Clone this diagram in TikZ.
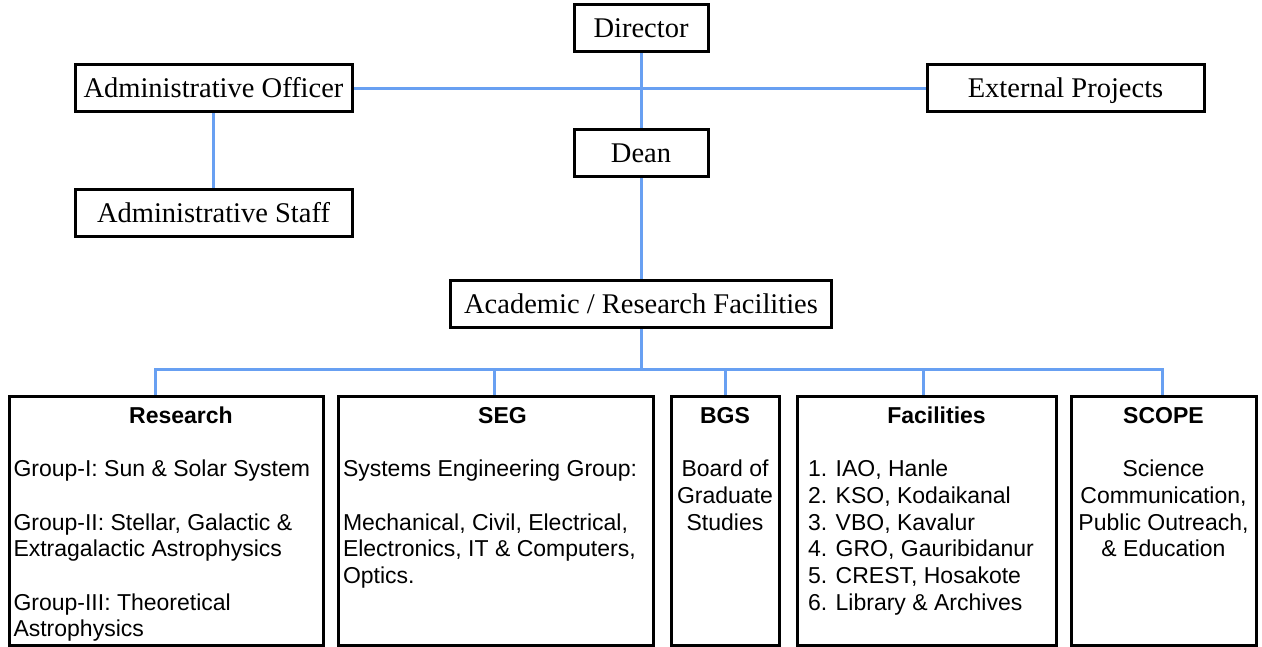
\documentclass[tikz,border=0pt]{standalone}
\usepackage{fontspec}
\setmainfont{Liberation Serif}
\setsansfont{Liberation Sans}
\usetikzlibrary{backgrounds}
\definecolor{linkblue}{RGB}{104,160,242}
\newcommand{\unithead}[1]{\rule{0pt}{17.2pt}\textbf{#1}}

\begin{document}
\begin{tikzpicture}[x=1pt, y=-1pt,
  post/.style={draw, fill=white, line width=3pt, minimum height=47pt, inner sep=0pt,
    text height=19pt, text depth=0pt, font=\fontsize{28.5}{32}\selectfont},
  unit/.style={draw, fill=white, line width=3pt, anchor=north, inner ysep=9.5pt, inner xsep=4pt,
    font=\sffamily\fontsize{23}{26.7}\selectfont},
  link/.style={draw=linkblue, line width=3pt}]
\useasboundingbox (0,0) rectangle (1262,647);

% management
\node[post, minimum width=134pt] (dir) at (641,28.5) {Director};
\node[post, minimum width=277pt] (admoff) at (213.5,88.5) {Administrative Officer};
\node[post, minimum width=277pt] (ext) at (1065.5,88.5) {External Projects};
\node[post, minimum width=134pt] (dean) at (641,153.5) {Dean};
\node[post, minimum width=277pt] (admstaff) at (213.5,213.5) {Administrative Staff};
\node[post, minimum width=381pt] (acad) at (641,304.5) {Academic / Research Facilities};

% units
\node[unit] (res) at (166.5,395) {\parbox[t][230pt][t]{306pt}{%
  {\centering\hspace*{29pt}\unithead{Research}\par}\raggedright
  \vspace{26.7pt}Group-I: Sun \& Solar System\par
  \vspace{26.7pt}Group-II: Stellar, Galactic \&\\ Extragalactic Astrophysics\par
  \vspace{26.7pt}Group-III: Theoretical\\ Astrophysics}};
\node[unit, inner xsep=5pt] (seg) at (495.5,395) {\parbox[t][230pt][t]{305pt}{%
  {\centering\hspace*{14pt}\unithead{SEG}\par}\raggedright
  \vspace{26.7pt}Systems Engineering Group:\par
  \vspace{26.7pt}Mechanical, Civil, Electrical,\\ Electronics, IT \& Computers,\\ Optics.}};
\node[unit] (bgs) at (725,395) {\parbox[t][230pt][t]{100pt}{\centering
  \unithead{BGS}\par
  \vspace{26.7pt}Board of\\ Graduate\\ Studies}};
\node[unit, inner xsep=11pt] (fac) at (926.5,395) {\parbox[t][230pt][t]{237pt}{%
  {\centering\hspace*{20pt}\unithead{Facilities}\par}\raggedright
  \vspace{26.7pt}1. IAO, Hanle\\ 2. KSO, Kodaikanal\\ 3. VBO, Kavalur\\
  4. GRO, Gauribidanur\\ 5. CREST, Hosakote\\ 6. Library \& Archives}};
\node[unit] (scope) at (1163.5,395) {\parbox[t][230pt][t]{177pt}{\centering
  \unithead{SCOPE}\par
  \vspace{26.7pt}Science\\ Communication,\\ Public Outreach,\\ \& Education}};

% reporting lines
\begin{scope}[on background layer]
\draw[link] (dir) -- (dean);
\draw[link] (admoff) -- (ext);
\draw[link] (admoff) -- (admstaff);
\draw[link] (dean) -- (acad);
\coordinate (bus) at ([yshift=-40pt]acad.south);
\draw[link] (acad) -- (bus);
\foreach \u/\dx in {res/-11.5, seg/-1.5, bgs/0, fac/-3, scope/-1.5}
  \draw[link] (bus) -| ([xshift=\dx pt]\u.north);
\end{scope}
\end{tikzpicture}
\end{document}
